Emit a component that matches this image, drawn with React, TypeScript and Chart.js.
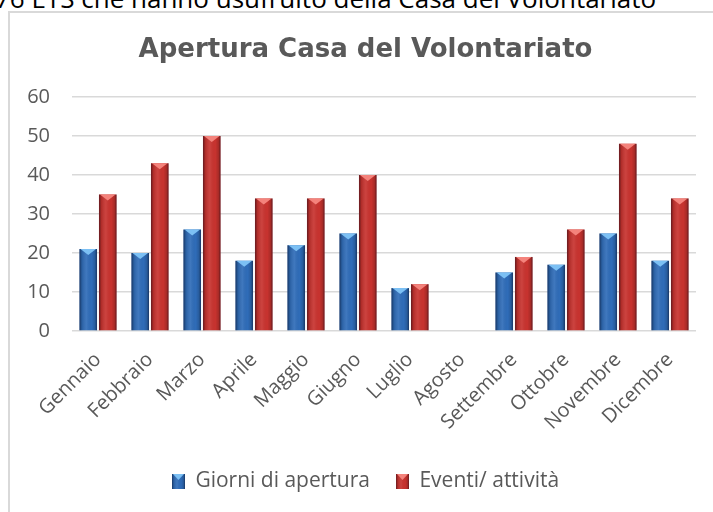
import React, { useEffect, useRef } from "react";
import { Chart, registerables } from "chart.js";

Chart.register(...registerables);

const categories = [
  "Gennaio", "Febbraio", "Marzo", "Aprile", "Maggio", "Giugno",
  "Luglio", "Agosto", "Settembre", "Ottobre", "Novembre", "Dicembre",
];
const giorniApertura = [21, 20, 26, 18, 22, 25, 11, 0, 15, 17, 25, 18];
const eventiAttivita = [35, 43, 50, 34, 34, 40, 12, 0, 19, 26, 48, 34];
const seriesNames = ["Giorni di apertura", "Eventi/ attività"];
const yTicks = [0, 10, 20, 30, 40, 50, 60];
const titleText = "Apertura Casa del Volontariato";
const headerText = "76 ETS che hanno usufruito della Casa del Volontariato";

const BLUE = "#2f6cb8";
const BLUE_TOP = "#7cc0f4";
const RED = "#c8332f";
const RED_TOP = "#f4837c";
const FONT = "'Open Sans', sans-serif";
const TITLE_FONT = "'DejaVu Sans', sans-serif";

function shadeRect(ctx: CanvasRenderingContext2D, l: number, t: number, w: number, h: number, top: string) {
  const g = ctx.createLinearGradient(l, 0, l + w, 0);
  g.addColorStop(0, "rgba(0,0,20,0.5)");
  g.addColorStop(0.14, "rgba(0,0,0,0.12)");
  g.addColorStop(0.4, "rgba(255,255,255,0.08)");
  g.addColorStop(0.7, "rgba(0,0,0,0)");
  g.addColorStop(0.88, "rgba(0,0,0,0.15)");
  g.addColorStop(1, "rgba(0,0,20,0.5)");
  ctx.fillStyle = g;
  ctx.fillRect(l, t, w, h);
  const th = Math.min(6, h);
  ctx.beginPath();
  ctx.moveTo(l + 1, t);
  ctx.lineTo(l + w - 1, t);
  ctx.lineTo(l + w / 2, t + th);
  ctx.closePath();
  ctx.fillStyle = top;
  ctx.fill();
}

function makeSwatch(base: string, top: string) {
  const c = document.createElement("canvas");
  c.width = 13;
  c.height = 15;
  const ctx = c.getContext("2d")!;
  ctx.fillStyle = base;
  ctx.fillRect(0, 0, 13, 15);
  shadeRect(ctx, 0, 0, 13, 15, top);
  return c;
}

const barShade = {
  id: "barShade",
  afterDatasetsDraw(chart: any) {
    const ctx = chart.ctx as CanvasRenderingContext2D;
    chart.data.datasets.forEach((ds: any, di: number) => {
      const meta = chart.getDatasetMeta(di);
      meta.data.forEach((bar: any) => {
        const { x, y, base, width } = bar.getProps(["x", "y", "base", "width"], true);
        const h = base - y;
        if (h <= 0.5) return;
        const l = x - width / 2;
        ctx.save();
        shadeRect(ctx, l, y, width, h, ds.topColor);
        ctx.restore();
      });
    });
  },
};

// Center title and legend on the full chart box, not the padded area
const fullWidthBlocks = {
  id: "fullWidthBlocks",
  afterLayout(chart: any) {
    [chart.titleBlock, chart.legend].forEach((b: any) => {
      if (!b) return;
      b.left = 0;
      b.right = chart.width;
      b.width = chart.width;
    });
  },
};

export default function App() {
  const ref = useRef<HTMLCanvasElement>(null);

  useEffect(() => {
    const canvas = ref.current!;
    const swatches = [makeSwatch(BLUE, BLUE_TOP), makeSwatch(RED, RED_TOP)];
    const chart = new Chart(canvas, {
      type: "bar",
      data: {
        labels: categories,
        datasets: [
          {
            label: seriesNames[0],
            data: giorniApertura,
            backgroundColor: BLUE,
            topColor: BLUE_TOP,
            barPercentage: 0.9,
            categoryPercentage: 0.75,
          } as any,
          {
            label: seriesNames[1],
            data: eventiAttivita,
            backgroundColor: RED,
            topColor: RED_TOP,
            barPercentage: 0.9,
            categoryPercentage: 0.75,
          } as any,
        ],
      },
      options: {
        responsive: false,
        animation: false,
        layout: { padding: { left: 0, right: 25, top: 0, bottom: 11 } },
        plugins: {
          title: {
            display: true,
            text: titleText,
            color: "#595959",
            font: { family: TITLE_FONT, size: 26, weight: "bold", lineHeight: 1.2 },
            padding: { top: 22, bottom: 30.8 },
          },
          legend: {
            position: "bottom",
            labels: {
              color: "#595959",
              font: { family: FONT, size: 21 },
              boxWidth: 13,
              boxHeight: 15,
              padding: 26,
              usePointStyle: true,
              generateLabels: (c: any) => {
                const items = (Chart.defaults.plugins.legend.labels as any).generateLabels(c);
                return items.map((it: any, i: number) => ({ ...it, pointStyle: swatches[i] }));
              },
            },
          },
          tooltip: { enabled: false },
        },
        scales: {
          x: {
            grid: { display: false },
            border: { display: false },
            ticks: {
              color: "#595959",
              font: { family: FONT, size: 20 },
              minRotation: 45,
              maxRotation: 45,
              padding: 9,
            },
            afterFit: (s: any) => {
              s.height = 114;
            },
          },
          y: {
            min: 0,
            max: 60,
            afterBuildTicks: (s: any) => {
              s.ticks = yTicks.map((v) => ({ value: v }));
            },
            grid: { color: "#d9d9d9", lineWidth: 1.5, drawTicks: false },
            border: { display: false },
            ticks: {
              color: "#595959",
              font: { family: FONT, size: 20 },
              padding: 22,
            },
            afterFit: (s: any) => {
              s.width = 62;
            },
          },
        },
      } as any,
      plugins: [barShade, fullWidthBlocks],
    });
    return () => chart.destroy();
  }, []);

  return (
    <div
      style={{
        position: "fixed",
        left: 0,
        top: 0,
        width: 713,
        height: 512,
        overflow: "hidden",
        background: "#fff",
      }}
    >
      <div
        style={{
          position: "absolute",
          left: -5,
          top: -15,
          fontFamily: FONT,
          fontSize: 26,
          lineHeight: "26px",
          whiteSpace: "nowrap",
          color: "#000",
        }}
      >
        {headerText}
      </div>
      <div
        style={{
          position: "absolute",
          left: 8,
          top: 11,
          width: 715,
          height: 520,
          border: "2px solid #d9d9d9",
          boxSizing: "border-box",
          background: "#fff",
        }}
      >
        <canvas
          ref={ref}
          width={711}
          height={500}
          style={{ position: "absolute", left: 0, top: 0, width: 711, height: 500 }}
        />
      </div>
    </div>
  );
}
